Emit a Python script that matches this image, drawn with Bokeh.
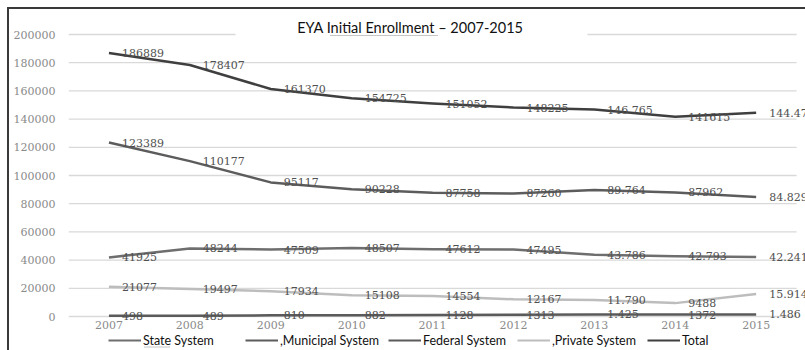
from bokeh.plotting import figure
from bokeh.layouts import column
from bokeh.models import ColumnDataSource, FixedTicker, Legend, LegendItem, Label, Range1d
from bokeh.core.properties import value
from bokeh.embed import file_html
from bokeh.resources import INLINE

# ---------------- data ----------------
years = [2007, 2008, 2009, 2010, 2011, 2012, 2013, 2014, 2015]
state_system = [41925, 48244, 47509, 48507, 47612, 47495, 43786, 42793, 42241]
municipal_system = [123389, 110177, 95117, 90228, 87758, 87260, 89764, 87962, 84829]
federal_system = [498, 489, 810, 882, 1128, 1313, 1425, 1372, 1486]
private_system = [21077, 19497, 17934, 15108, 14554, 12167, 11790, 9488, 15914]
total = [186889, 178407, 161370, 154725, 151052, 148225, 146765, 141615, 144470]

state_labels = ["41925", "48244", "47509", "48507", "47612", "47495", "43.786", "42.793", "42.241"]
municipal_labels = ["123389", "110177", "95117", "90228", "87758", "87260", "89.764", "87962", "84.829"]
federal_labels = ["498", "489", "810", "882", "1128", "1313", "1.425", "1372", "1.486"]
private_labels = ["21077", "19497", "17934", "15108", "14554", "12167", "11.790", "9488", "15.914"]
total_labels = ["186889", "178407", "161370", "154725", "151052", "148225", "146.765", "141615", "144.470"]

series_names = ["State System", ",Municipal System", "Federal System", ",Private System", "Total"]
y_ticks = [0, 20000, 40000, 60000, 80000, 100000, 120000, 140000, 160000, 180000, 200000]
title_text = "EYA Initial Enrollment \u2013 2007-2015"

# ---------------- layout geometry ----------------
OFF = 9                        # page offset of the canvas (inside the border)
W = 805 - OFF
H_MAIN = 332 - OFF             # main chart canvas ends at page y 332
H_LEG = 350 - 332              # legend strip
FRAME_X = 68                   # page x of the plot frame's left edge
frame_left = FRAME_X - OFF
frame_h = 322 - OFF            # frame from page 9 to 322
px_year = 80.9
px_unit = 282 / 200000
x_start = 2006.5
x_end = x_start + (W - frame_left) / px_year
y_start = -(322 - 316) / px_unit
y_end = y_start + frame_h / px_unit


def page_x(px):
    return x_start + (px - FRAME_X) / px_year


def page_y(py):
    return (316 - py) / px_unit


p = figure(width=W, height=H_MAIN, output_backend="svg", toolbar_location=None,
           x_range=Range1d(x_start, x_end), y_range=Range1d(y_start, y_end),
           min_border_left=frame_left, min_border_right=0, min_border_top=0,
           min_border_bottom=H_MAIN - frame_h)
p.outline_line_color = None
p.background_fill_color = "white"
p.border_fill_color = "white"
p.xgrid.visible = False
p.ygrid.visible = False

# gridlines (stop at the category edge, gap behind the title on the top line)
grid_end = 2015.5
gap_l, gap_r = page_x(235), page_x(587)
gx0, gx1, gy = [], [], []
for t in y_ticks:
    if t == y_ticks[-1]:
        gx0 += [x_start, gap_r]; gx1 += [gap_l, grid_end]; gy += [t, t]
    else:
        gx0.append(x_start); gx1.append(grid_end); gy.append(t)
p.segment(x0=gx0, y0=gy, x1=gx1, y1=gy, line_color="#d9d9d9", line_width=1.3)

# axes
p.xaxis.ticker = FixedTicker(ticks=years)
p.yaxis.ticker = FixedTicker(ticks=y_ticks)
for ax in (p.xaxis[0], p.yaxis[0]):
    ax.axis_line_color = None
    ax.major_tick_line_color = None
    ax.minor_tick_line_color = None
    ax.major_tick_out = 0
    ax.major_tick_in = 0
    ax.major_label_text_font = "DejaVu Serif"
    ax.major_label_text_font_size = "11px"
    ax.major_label_text_color = "#8a8a8a"
p.yaxis.major_label_standoff = 13
p.xaxis.major_label_standoff = -2
p.yaxis.formatter.use_scientific = False

series = [
    (series_names[0], state_system, state_labels, "#6e6e6e"),
    (series_names[1], municipal_system, municipal_labels, "#5c5c5c"),
    (series_names[2], federal_system, federal_labels, "#5a5a5a"),
    (series_names[3], private_system, private_labels, "#bdbdbd"),
    (series_names[4], total, total_labels, "#3f3f3f"),
]

for name, vals, labs, col in series:
    src = ColumnDataSource(dict(x=years, y=vals))
    p.line("x", "y", source=src, line_color=col, line_width=2.5, line_join="round")
for name, vals, labs, col in series:
    src = ColumnDataSource(dict(x=years, y=vals, lab=labs))
    p.text("x", "y", text="lab", source=src, x_offset=13, text_align="left",
           text_baseline="middle", text_font=value("DejaVu Serif"),
           text_font_size="11px", text_color="#505050")

title = Label(x=page_x(523), y=page_y(27), text=title_text,
              text_align="right", text_baseline="middle", text_font="Lato",
              text_font_size="14.5px", text_color="#111111")
p.add_layout(title)
# spell-check squiggle under "Initial Enrollment"
p.segment(x0=[page_x(330)], y0=[page_y(35)], x1=[page_x(437)], y1=[page_y(35)],
          line_color="#8c8c8c", line_width=1, line_dash="1 1")

# ---------------- legend strip ----------------
# frame of this strip is aligned with the chart frame: x in page pixels, y from the bottom
lf = figure(width=W, height=H_LEG, output_backend="svg", toolbar_location=None,
            x_range=Range1d(FRAME_X, 805), y_range=Range1d(0, H_LEG),
            min_border=0, min_border_left=0, min_border_right=0,
            min_border_top=0, min_border_bottom=0)
lf.axis.visible = False
lf.grid.visible = False
lf.outline_line_color = None
lf.border_fill_color = "white"
lf.background_fill_color = "white"

nan = float("nan")
legend_line_page_x = [108, 245, 388, 517, 647]
for (name, vals, labs, col), lx in zip(series, legend_line_page_x):
    r = lf.line(x=[nan], y=[nan], line_color=col, line_width=2.2)
    lg = Legend(items=[LegendItem(label=name, renderers=[r])],
                location=(lx - FRAME_X, 2), orientation="horizontal",
                glyph_width=33, glyph_height=16, label_height=16, label_standoff=2,
                padding=0, margin=0, spacing=0,
                border_line_alpha=0, background_fill_alpha=0,
                label_text_font="Lato", label_text_font_size="12.5px",
                label_text_color="#111111")
    lf.add_layout(lg, "center")
# spell-check squiggle under "State"
lf.segment(x0=[144], y0=[3.5], x1=[170], y1=[3.5], line_color="#8c8c8c",
           line_width=1, line_dash="1 1")

layout = column(p, lf, spacing=0)
layout.margin = (7, 0, 0, 7)
layout.styles = {"border-top": "2px solid #3a3a3a", "border-left": "2px solid #3a3a3a"}

open("out.html", "w").write(file_html(layout, INLINE))
